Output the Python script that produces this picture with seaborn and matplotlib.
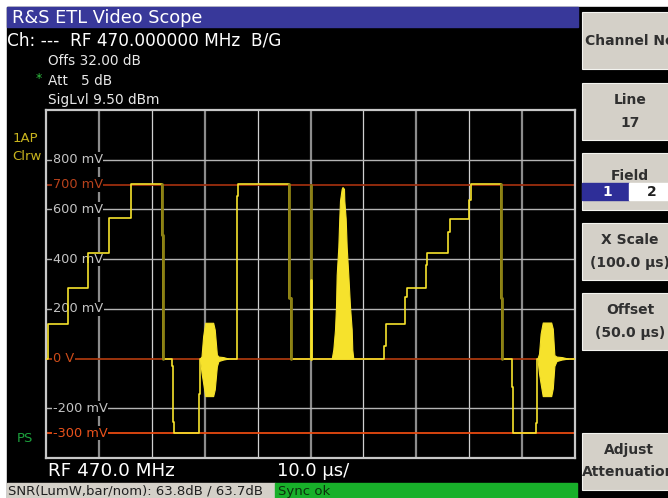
# R&S ETL video scope screenshot - line 17 test signal
import numpy as np
import pandas as pd
import matplotlib
matplotlib.use("Agg")
import matplotlib.pyplot as plt
import seaborn as sns
from matplotlib.patches import Rectangle

W, H = 668, 498

# ---------- DATA (time in us, level in mV) ----------
# staircase / bar / sync path, read step by step off the screen
trace_pts = [
    (0.0, 0), (0.3, 0), (0.3, 140), (4.2, 140), (4.2, 284), (7.9, 284),
    (7.9, 424), (11.9, 424), (11.9, 564), (16.1, 564), (16.1, 704), (21.9, 704),
    (21.9, 496), (22.05, 496), (22.05, 29), (22.2, 29), (22.2, 0), (23.75, 0),
    (23.75, -30), (24.05, -30), (24.05, -256), (24.25, -256), (24.25, -300),
    (28.9, -300), (28.9, -144), (29.1, -144), (29.1, 0), (36.05, 0),
    (36.05, 136), (36.2, 136), (36.2, 656), (36.35, 656), (36.35, 704),
    (46.0, 704), (46.0, 244), (46.3, 244), (46.3, 0), (63.95, 0),
    (63.95, 52), (64.2, 52), (64.2, 140), (67.9, 140), (67.9, 247), (68.2, 247),
    (68.2, 282), (71.8, 282), (71.8, 376), (72.1, 376), (72.1, 423), (76.05, 423),
    (76.05, 509), (76.3, 509), (76.3, 563), (80.0, 563), (80.0, 636), (80.3, 636),
    (80.3, 703), (85.95, 703), (85.95, 243), (86.2, 243), (86.2, 0), (88.0, 0),
    (88.0, -115), (88.3, -115), (88.3, -298), (92.55, -298), (92.55, -260),
    (92.8, -260), (92.8, -50), (92.9, -50), (92.9, 0), (100.0, 0),
]

# fast falling edges, drawn dim
fall1_pts = [(21.9, 704), (21.9, 496), (22.05, 496), (22.05, 29), (22.2, 29), (22.2, 0)]
fall2_pts = [(46.0, 704), (46.0, 244), (46.3, 244), (46.3, 0)]
fall3_pts = [(85.95, 703), (85.95, 243), (86.2, 243), (86.2, 0)]
spike_dim = [(50.1, 0), (50.1, 700)]
spike_bright = [(50.1, 0), (50.1, 316)]

# burst after sync (first line)
burst1_t = [29.1, 29.4, 29.7, 30.1, 30.3, 31.6, 31.9, 32.3, 32.6, 33.5, 34.5]
burst1_hi = [0, 9, 89, 144, 144, 144, 116, 16, 8, 6, 0]
burst1_lo = [0, -57, -97, -151, -151, -151, -124, -31, -10, -4, 0]

# burst after sync (second line)
burst2_t = [92.9, 93.2, 93.5, 93.9, 94.1, 95.5, 95.8, 96.1, 96.5, 97.5, 98.7]
burst2_hi = [0, 20, 100, 145, 145, 145, 120, 14, 8, 6, 0]
burst2_lo = [0, -60, -100, -151, -151, -151, -120, -30, -10, -4, 0]

# modulated pulse envelope
pulse_t = [54.01, 54.31, 54.63, 54.82, 54.95, 55.26, 55.44, 55.58, 55.90, 56.05,
           56.33, 56.39, 56.65, 56.84, 57.15, 57.47, 57.79, 57.90, 58.09]
pulse_hi = [0, 36, 116, 209, 336, 449, 563, 636, 683, 690,
            683, 636, 563, 449, 336, 209, 116, 36, 0]

# level labels on the screen
level_mv = [800, 700, 600, 400, 200, 0, -200, -300]
level_txt = ["800 mV", "700 mV", "600 mV", "400 mV", "200 mV", "0 V", "-200 mV", "-300 mV"]
grid_mv = [800, 600, 400, 200, -200]
ref_mv = [700, 0, -300]

softkeys = ["Channel No", "Line\n17", "Field", "X Scale\n(100.0 \u00b5s)",
            "Offset\n(50.0 \u00b5s)", "Adjust\nAttenuation"]

# ---------- COLOURS ----------
YELLOW = "#f6e22c"
OLIVE = "#8c8014"
GRID = "#b4b4b4"
REF_COL = {700: "#9c2e0e", 0: "#a8380e", -300: "#e84a10"}
LBL_COL = {700: "#b8421c", 0: "#cc4c1a", -300: "#ea521c"}
KEY = "#d4d0c8"
KEY_TXT = "#303030"
KFS = 10

sns.set_theme(style="dark", rc={"axes.facecolor": "black", "figure.facecolor": "white"})
plt.rcParams["font.family"] = ["DejaVu Sans"]

fig = plt.figure(figsize=(W / 100, H / 100), dpi=100)

# ---------- SCREEN CHROME (pixel coordinates) ----------
bg = fig.add_axes([0, 0, 1, 1])
bg.set_xlim(0, W)
bg.set_ylim(H, 0)
bg.axis("off")
bg.add_patch(Rectangle((7, 7), W - 7, H - 7, color="black"))
bg.add_patch(Rectangle((7, 7), 571, 20, color="#38389a"))
bg.text(12, 17.5, "R&S ETL Video Scope", color="white", fontsize=12.8, va="center")
bg.text(7, 40, "Ch: ---  RF 470.000000 MHz  B/G", color="white", fontsize=12.2, va="center")
bg.text(48, 61, "Offs 32.00 dB", color="#e8e8e8", fontsize=9.8, va="center")
bg.text(36, 78, "*", color="#30c040", fontsize=9, va="center")
bg.text(48, 81, "Att   5 dB", color="#e8e8e8", fontsize=9.8, va="center")
bg.text(48, 100, "SigLvl 9.50 dBm", color="#e8e8e8", fontsize=9.8, va="center")
bg.text(13, 138, "1AP", color="#c8b41e", fontsize=9.5, va="center")
bg.text(12, 156, "Clrw", color="#c8b41e", fontsize=9.5, va="center")
bg.text(17, 438, "PS", color="#1ca03c", fontsize=9.5, va="center")
bg.text(48, 471, "RF 470.0 MHz", color="white", fontsize=13.2, va="center")
bg.text(277, 471, "10.0 \u00b5s/", color="white", fontsize=13, va="center")

# status bar
bg.add_patch(Rectangle((7, 483), 268, 15, color=KEY))
bg.add_patch(Rectangle((275, 483), 302, 15, color="#18b02a"))
bg.text(8, 491, "SNR(LumW,bar/nom): 63.8dB / 63.7dB", color="#202020", fontsize=9.5, va="center")
bg.text(278, 491, "Sync ok", color="#0c300c", fontsize=9.5, va="center")

# softkeys
key_top = [12, 83, 153, 223, 293, 433]
for top, label in zip(key_top, softkeys):
    bg.add_patch(Rectangle((582, top), 90, 57, facecolor=KEY, edgecolor="#f4f4f0", lw=0.8))
    if label == "Channel No":
        bg.text(585, top + 29, label, color=KEY_TXT, fontsize=KFS, fontweight="bold", va="center")
    elif label == "Field":
        bg.text(630, top + 23, label, color=KEY_TXT, fontsize=KFS, fontweight="bold",
                ha="center", va="center")
        bg.add_patch(Rectangle((582, top + 30), 47, 17, color="#2e2e98"))
        bg.add_patch(Rectangle((629, top + 30), 40, 17, color="white"))
        bg.text(607, top + 39, "1", color="white", fontsize=KFS, fontweight="bold", ha="center", va="center")
        bg.text(652, top + 39, "2", color="#202020", fontsize=KFS, fontweight="bold", ha="center", va="center")
    elif label.startswith("Adjust"):
        bg.text(629, top + 17, "Adjust", color=KEY_TXT, fontsize=KFS, fontweight="bold",
                ha="center", va="center")
        bg.text(582, top + 39, "Attenuation", color=KEY_TXT, fontsize=KFS, fontweight="bold", va="center")
    else:
        first, second = label.split("\n")
        bg.text(630, top + 17, first, color=KEY_TXT, fontsize=KFS, fontweight="bold",
                ha="center", va="center")
        bg.text(630, top + 40, second, color=KEY_TXT, fontsize=KFS, fontweight="bold",
                ha="center", va="center")

# ---------- SCOPE AXES ----------
ax = fig.add_axes([46 / W, 1 - 458 / H, 529 / W, 348 / H])
ax.set_xticks([])
ax.set_yticks([])
for sp in ax.spines.values():
    sp.set_visible(True)
    sp.set_color("#c8c8c8")
    sp.set_linewidth(1.6)

for i in range(1, 10):
    if i % 2:
        ax.axvline(10 * i, color="#8c8c8c", lw=1.6, zorder=1)
    else:
        ax.axvline(10 * i, color="#d0d0d0", lw=0.9, zorder=1)
for v in grid_mv:
    ax.axhline(v, color=GRID, lw=1.0, zorder=1)
for v in ref_mv:
    ax.axhline(v, color=REF_COL[v], lw=1.3, zorder=1.5)

for v, s in zip(level_mv, level_txt):
    ax.text(1.25, v, s, color=LBL_COL.get(v, "#c4c4c4"), fontsize=9.3, ha="left", va="center",
            zorder=2, bbox=dict(facecolor="black", edgecolor="none", pad=0.6))

trace = pd.DataFrame(trace_pts, columns=["t", "mv"])
sns.lineplot(data=trace, x="t", y="mv", sort=False, estimator=None, color=YELLOW,
             lw=1.2, ax=ax, legend=False, zorder=3)

for pts in (fall1_pts, fall2_pts, fall3_pts, spike_dim):
    d = pd.DataFrame(pts, columns=["t", "mv"])
    sns.lineplot(data=d, x="t", y="mv", sort=False, estimator=None, color=OLIVE,
                 lw=2.0, ax=ax, legend=False, zorder=3.5)
d = pd.DataFrame(spike_bright, columns=["t", "mv"])
sns.lineplot(data=d, x="t", y="mv", sort=False, estimator=None, color=YELLOW,
             lw=2.0, ax=ax, legend=False, zorder=3.6)

ax.fill_between(burst1_t, burst1_lo, burst1_hi, color=YELLOW, lw=0.8, zorder=4)
ax.fill_between(burst2_t, burst2_lo, burst2_hi, color=YELLOW, lw=0.8, zorder=4)
ax.fill_between(pulse_t, 0, pulse_hi, color=YELLOW, lw=0.8, zorder=4)
ax.set_xlim(0, 100)
ax.set_ylim(-400, 1000)
ax.set_xlabel("")
ax.set_ylabel("")

fig.savefig("out.png", dpi=100)
